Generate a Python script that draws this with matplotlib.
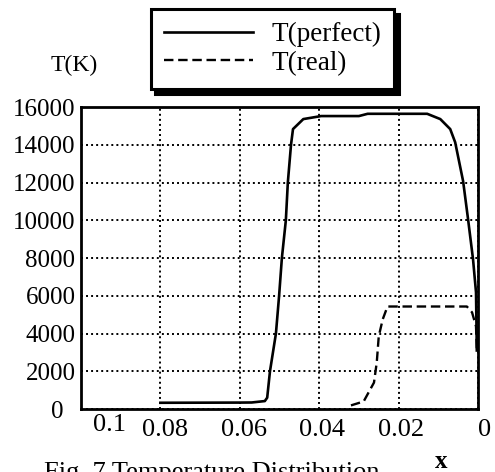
import matplotlib
matplotlib.use("Agg")
import matplotlib.pyplot as plt
import matplotlib.transforms as mtransforms

# perfect-gas temperature (solid)
perfect_x = [0.080, 0.070, 0.060, 0.057, 0.0537, 0.0531, 0.0524, 0.0509, 0.0501,
             0.0494, 0.0484, 0.0479, 0.0471, 0.0466, 0.0440, 0.0395, 0.0300,
             0.0278, 0.0128, 0.0095, 0.0070, 0.00575, 0.00375, 0.0025,
             0.00125, 0.0005, 0.0003]
perfect_T = [330, 335, 340, 345, 420, 600, 2000, 4000, 6000,
             8000, 10000, 12000, 14000, 14830, 15360, 15520, 15520,
             15640, 15640, 15360, 14830, 14130, 12070, 10050,
             7930, 6180, 3100]

# real-gas temperature (dashed)
real_x = [0.032, 0.0288, 0.0262, 0.0255, 0.0250, 0.0240, 0.0228, 0.0028,
          0.0015, 0.0005, 0.0003]
real_T = [190, 400, 1400, 2470, 3850, 4750, 5430, 5430,
          5120, 4380, 3160]

x_ticks = [0.1, 0.08, 0.06, 0.04, 0.02, 0]
x_labels = ["0.1", "0.08", "0.06", "0.04", "0.02", "0"]
y_ticks = [0, 2000, 4000, 6000, 8000, 10000, 12000, 14000, 16000]

plt.rcParams["font.family"] = ["Liberation Serif", "DejaVu Serif"]

fig = plt.figure(figsize=(4.95, 4.72), dpi=100)
ax = fig.add_axes([81 / 495, 1 - 409 / 472, 397 / 495, 302 / 472])

ax.plot(perfect_x, perfect_T, color="black", lw=1.9, label="T(perfect)")
ax.plot(real_x, real_T, color="black", lw=1.7, dashes=(4, 2), label="T(real)")

ax.set_xlim(0.1, 0)
ax.set_ylim(0, 16000)
ax.set_xticks(x_ticks)
ax.set_xticklabels(x_labels, fontsize=19)
ax.set_yticks(y_ticks)
ax.set_yticklabels([str(v) for v in y_ticks], fontsize=18)
ax.tick_params(length=0)
ax.tick_params(axis="x", pad=7)
ax.tick_params(axis="y", pad=4)
ax.grid(True, color="black", lw=1.4, linestyle=(0, (1, 1.6)))
for sp in ax.spines.values():
    sp.set_linewidth(2)

# Mathcad-style offsets for the tick labels
shifts = [(29, 5), (5, 0), (4, 0), (3, 0), (2, 0), (7, 0)]
for lbl, (dx, dy) in zip(ax.get_xticklabels(), shifts):
    lbl.set_transform(lbl.get_transform() + mtransforms.ScaledTranslation(dx / 100, dy / 100, fig.dpi_scale_trans))
lbl = ax.get_yticklabels()[0]
lbl.set_transform(lbl.get_transform() + mtransforms.ScaledTranslation(-12 / 100, 0, fig.dpi_scale_trans))

leg = ax.legend(loc="center", bbox_to_anchor=(272.5 / 495, 1 - 49 / 472),
                bbox_transform=fig.transFigure, fontsize=19.5, frameon=True,
                fancybox=False, framealpha=1, edgecolor="black",
                handlelength=3.3, handletextpad=0.65, borderpad=0.5,
                labelspacing=0.12,
                shadow={"ox": 3.5, "oy": -3.5, "color": "black", "alpha": 1})
leg.get_frame().set_linewidth(2.2)

fig.text(74 / 495, 1 - 65 / 472, "T(K)", fontsize=17, ha="center", va="center")
fig.text(441 / 495, 1 - 468 / 472, "x", fontsize=18, ha="center", va="baseline",
         fontweight="bold")
fig.text(44 / 495, 1 - 462 / 472, "Fig. 7 Temperature Distribution",
         fontsize=19, ha="left", va="top")

fig.savefig("out.png", dpi=100)
